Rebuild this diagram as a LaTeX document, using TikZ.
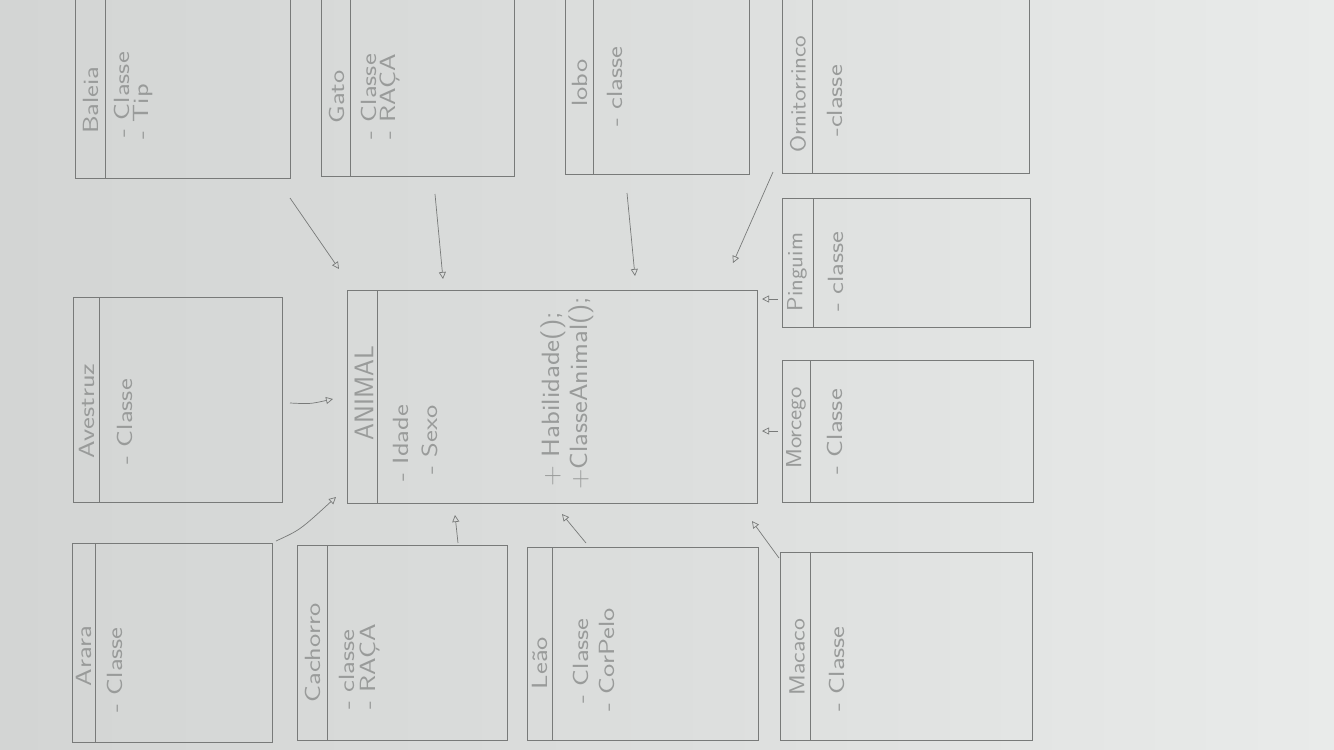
\documentclass[tikz,border=0pt]{standalone}
\usepackage{graphicx}
\usetikzlibrary{arrows.meta}
\definecolor{paperL}{HTML}{D3D5D4}
\definecolor{paperM}{HTML}{DCDEDD}
\definecolor{paperR}{HTML}{E9EBEA}
\definecolor{pencil}{HTML}{787A79}
\definecolor{lead}{HTML}{999B9A}

\tikzset{
  cbox/.style={draw=pencil, line width=0.9pt, inner sep=0pt, anchor=north west},
  divider/.style={draw=pencil, line width=0.9pt},
  title/.style={rotate=90, inner sep=0pt, text=lead,
    font=\sffamily\fontsize{22}{22}\selectfont},
  bigtitle/.style={title, font=\sffamily\fontsize{27}{27}\selectfont},
  attr/.style={rotate=90, anchor=west, inner sep=0pt, text=lead,
    font=\sffamily\fontsize{22}{22}\selectfont},
  method/.style={attr, font=\sffamily\fontsize{25}{25}\selectfont},
  inherit/.style={draw=pencil, line width=0.7pt,
    -{Triangle[open, length=7pt, width=7pt]}}
}

% loose, wide lettering
\newcommand\hw[2][1.28]{\scalebox{#1}[1]{#2}}

% class box: name, left, top, right, bottom, x of the header divider
\newcommand\classbox[6]{%
  \node[cbox, minimum width={#4-#2}, minimum height={#5-#3}] (#1) at (#2,#3) {};
  \draw[divider] (#6,#3) -- (#6,#5);
}

\begin{document}
\begin{tikzpicture}[x=1pt, y=-1pt]
  \clip (0,0) rectangle (1334,750);
  \shade[left color=paperL, right color=paperR, middle color=paperM]
    (0,0) rectangle (1334,750);

  % top row
  \classbox{baleia}{75}{-5}{290}{178}{105}
  \classbox{gato}{321}{-5}{514}{176}{350}
  \classbox{lobo}{565}{-5}{749}{174}{593}
  \classbox{orni}{782}{-5}{1029}{173}{812}
  % middle row
  \classbox{avestruz}{73}{297}{282}{502}{99}
  \classbox{animal}{347}{290}{757}{503}{377}
  \classbox{pinguim}{782}{198}{1030}{327}{813}
  \classbox{morcego}{782}{360}{1033}{502}{810}
  % bottom row
  \classbox{arara}{72}{543}{272}{742}{95}
  \classbox{cachorro}{297}{545}{507}{740}{327}
  \classbox{leao}{527}{547}{758}{740}{552}
  \classbox{macaco}{780}{552}{1032}{740}{810}

  % class names
  \node[title] (baleia-t) at (91,100) {\hw{Baleia}};
  \node[title] (gato-t) at (337,97) {\hw{Gato}};
  \node[title] (lobo-t) at (580,83) {\hw{lobo}};
  \node[title] (orni-t) at (798,94) {\hw[1.12]{Ornitorrinco}};
  \node[title] (avestruz-t) at (87,411) {\hw{Avestruz}};
  \node[bigtitle] (animal-t) at (364,393) {ANIMAL};
  \node[title] (pinguim-t) at (797,272) {\hw[1.1]{Pinguim}};
  \node[title] (morcego-t) at (796,428) {\hw[1.1]{Morcego}};
  \node[title] (arara-t) at (84,656) {\hw{Arara}};
  \node[title] (cachorro-t) at (313,653) {\hw{Cachorro}};
  \node[title] (leao-t) at (540,663) {\hw{Leão}};
  \node[title] (macaco-t) at (797,657) {\hw[1.15]{Macaco}};

  % attributes
  \node[attr] (baleia-a1) at (122,138) {\hw{- Classe}};
  \node[attr] (baleia-a2) at (143,140) {\hw{- Tip}};
  \node[attr] (gato-a1) at (369,140) {\hw{- Classe}};
  \node[attr] (gato-a2) at (390,140) {\hw{- RAÇA}};
  \node[attr] (lobo-a1) at (615,127) {\hw{- classe}};
  \node[attr] (orni-a1) at (835,137) {\hw{-classe}};
  \node[attr] (avestruz-a1) at (125,465) {\hw{- Classe}};
  \node[attr] (animal-a1) at (401,482) {\hw{- Idade}};
  \node[attr] (animal-a2) at (430,475) {\hw{- Sexo}};
  \node[method] (animal-m1) at (553,487) {\hw[1.14]{+ Habilidade();}};
  \node[method] (animal-m2) at (581,490) {\hw[1.12]{+ClasseAnimal();}};
  \node[attr] (pinguim-a1) at (836,312) {\hw{- classe}};
  \node[attr] (morcego-a1) at (835,475) {\hw{- Classe}};
  \node[attr] (arara-a1) at (115,713) {\hw{- Classe}};
  \node[attr] (cachorro-a1) at (347,710) {\hw{- classe}};
  \node[attr] (cachorro-a2) at (370,710) {\hw{- RAÇA}};
  \node[attr] (leao-a1) at (581,704) {\hw{- Classe}};
  \node[attr] (leao-a2) at (607,712) {\hw{- CorPelo}};
  \node[attr] (macaco-a1) at (837,712) {\hw{- Classe}};

  % ends of the inheritance arrows
  \coordinate (baleia-o) at (290,198);   \coordinate (animal-i1) at (339,269);
  \coordinate (gato-o) at (435,194);     \coordinate (animal-i2) at (443,279);
  \coordinate (lobo-o) at (627,193);     \coordinate (animal-i3) at (635,276);
  \coordinate (orni-o) at (773,172);     \coordinate (animal-i4) at (733,263);
  \coordinate (avestruz-o) at (290,403); \coordinate (animal-i5) at (333,399);
  \coordinate (arara-o) at (276,541);    \coordinate (animal-i6) at (336,497);
  \coordinate (cachorro-o) at (458,543); \coordinate (animal-i7) at (455,515);
  \coordinate (leao-o) at (586,543);     \coordinate (animal-i8) at (562,514);
  \coordinate (macaco-o) at (779,558);   \coordinate (animal-i9) at (752,521);
  \coordinate (pinguim-o) at (778,299);  \coordinate (animal-i10) at (762,299);
  \coordinate (morcego-o) at (778,431);  \coordinate (animal-i11) at (762,431);

  \draw[inherit] (baleia-o) -- (animal-i1);
  \draw[inherit] (gato-o) -- (animal-i2);
  \draw[inherit] (lobo-o) -- (animal-i3);
  \draw[inherit] (orni-o) -- (animal-i4);
  \draw[inherit] (avestruz-o) .. controls (310,404) .. (animal-i5);
  \draw[inherit] (arara-o) .. controls (300,530) .. (animal-i6);
  \draw[inherit] (cachorro-o) -- (animal-i7);
  \draw[inherit] (leao-o) -- (animal-i8);
  \draw[inherit] (macaco-o) -- (animal-i9);
  \draw[inherit] (pinguim-o) -- (animal-i10);
  \draw[inherit] (morcego-o) -- (animal-i11);
\end{tikzpicture}
\end{document}
